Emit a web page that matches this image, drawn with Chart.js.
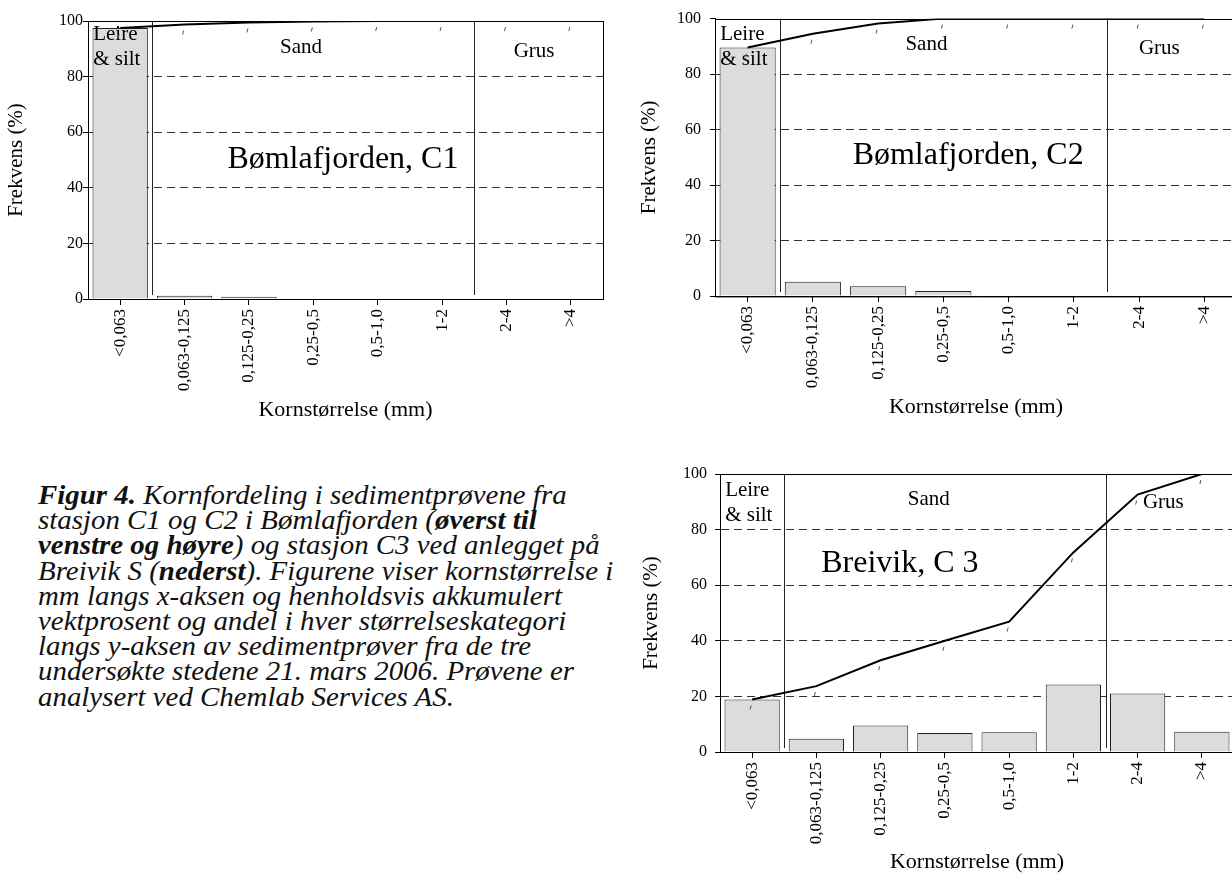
<!DOCTYPE html>
<html>
<head>
<meta charset="utf-8">
<script src="https://cdn.jsdelivr.net/npm/chart.js@4"></script>
<style>
  html, body { margin: 0; padding: 0; background: #fff; overflow: hidden; }
  body { width: 1232px; height: 880px; position: relative; }
  canvas { position: absolute; }
  #c1 { left: 0; top: 0; }
  #c2 { left: 620px; top: 0; }
  #c3 { left: 620px; top: 455px; }
  .caption {
    position: absolute; left: 38px; top: 483px;
    font-family: "Liberation Serif", "DejaVu Serif", serif;
    font-style: italic; font-size: 27px; line-height: 25.2px; color: #111;
    white-space: nowrap;
    transform: scaleX(1.07); transform-origin: left top;
  }
  .caption b { font-weight: bold; }
</style>
</head>
<body>
<canvas id="c1" width="610" height="440"></canvas>
<canvas id="c2" width="630" height="440"></canvas>
<canvas id="c3" width="630" height="425"></canvas>
<div class="caption">
<b>Figur 4.</b> Kornfordeling i sedimentprøvene fra<br>
stasjon C1 og C2 i Bømlafjorden (<b>øverst til</b><br>
<b>venstre og høyre</b>) og stasjon C3 ved anlegget på<br>
Breivik S (<b>nederst</b>). Figurene viser kornstørrelse i<br>
mm langs x-aksen og henholdsvis akkumulert<br>
vektprosent og andel i hver størrelseskategori<br>
langs y-aksen av sedimentprøver fra de tre<br>
undersøkte stedene 21. mars 2006. Prøvene er<br>
analysert ved Chemlab Services AS.
</div>
<script>
// grain size classes (mm)
const categories = ["<0,063", "0,063-0,125", "0,125-0,25", "0,25-0,5", "0,5-1,0", "1-2", "2-4", ">4"];
const yTicks = [0, 20, 40, 60, 80, 100];

// share per class (%) and cumulative weight percent
const c1Freq = [97.5, 1.2, 0.8, 0.3, 0, 0, 0, 0];
const c1Cum = [97.5, 98.7, 99.5, 99.8, 100, 100, 100, 100];
const c2Freq = [89.6, 5.1, 3.5, 1.8, 0, 0, 0, 0];
const c2Cum = [89.6, 94.5, 98.2, 100, 100, 100, 100, 100];
const c3Freq = [18.9, 4.8, 9.5, 6.8, 7.1, 24.3, 21, 7.3];
const c3Cum = [18.9, 23.7, 33, 40, 46.9, 71.8, 92.6, 100];

const stations = ["Bømlafjorden, C1", "Bømlafjorden, C2", "Breivik, C 3"];

const FONT = "'Liberation Serif', 'DejaVu Serif', serif";
Chart.defaults.font.family = FONT;
Chart.defaults.color = "#000";

// draws the frame, the class borders, the text labels and the small marks under the curve
const panelPlugin = {
  id: "panel",
  beforeDatasetsDraw(chart, args, opts) {
    const { ctx, chartArea: a, scales: { x } } = chart;
    ctx.save();
    ctx.strokeStyle = "#222";
    ctx.lineWidth = 1;
    (opts.borders || []).forEach((b) => {
      const px = Math.round(x.getPixelForValue(b)) + 0.5;
      ctx.beginPath();
      ctx.moveTo(px, a.top);
      ctx.lineTo(px, a.bottom - 4);
      ctx.stroke();
    });
    ctx.strokeStyle = "#000";
    ctx.strokeRect(Math.round(a.left) + 0.5, Math.round(a.top) + 0.5, a.right - a.left, a.bottom - a.top);
    ctx.restore();
  },
  afterDatasetsDraw(chart, args, opts) {
    const { ctx, scales: { x, y } } = chart;
    ctx.save();
    ctx.fillStyle = "#000";
    ctx.textBaseline = "middle";
    (opts.texts || []).forEach((t) => {
      ctx.font = t.size + "px " + FONT;
      ctx.textAlign = t.align || "center";
      ctx.fillText(t.text, x.getPixelForValue(t.x), y.getPixelForValue(t.y));
    });
    // tiny ticks under the cumulative curve
    const meta = chart.getDatasetMeta(1);
    ctx.strokeStyle = "#555";
    ctx.lineWidth = 1;
    meta.data.forEach((p) => {
      ctx.beginPath();
      ctx.moveTo(p.x - 1, p.y + 6);
      ctx.lineTo(p.x - 2, p.y + 10);
      ctx.stroke();
    });
    ctx.restore();
  },
};

function makeChart(id, freq, cum, station, layout) {
  const ctx = document.getElementById(id).getContext("2d");
  return new Chart(ctx, {
    type: "bar",
    data: {
      labels: categories,
      datasets: [
        {
          type: "bar",
          data: freq,
          backgroundColor: "#dcdcdc",
          borderColor: "#222",
          borderWidth: 1,
          barPercentage: 0.86,
          categoryPercentage: 1,
          order: 1,
        },
        {
          type: "line",
          data: cum,
          borderColor: "#000",
          borderWidth: 2,
          pointRadius: 0,
          tension: 0,
          order: 0,
        },
      ],
    },
    options: {
      responsive: false,
      animation: false,
      layout: { padding: layout.padding },
      plugins: {
        legend: { display: false },
        tooltip: { enabled: false },
        panel: {
          borders: [0.5, 5.5],
          texts: [
            { text: "Leire", x: -0.42, y: layout.leire, size: 21, align: "left" },
            { text: "& silt", x: -0.42, y: layout.leire - 9, size: 21, align: "left" },
            { text: "Sand", x: layout.sand[0], y: layout.sand[1], size: 21 },
            { text: "Grus", x: layout.grus[0], y: layout.grus[1], size: 21 },
            { text: station, x: layout.name[0], y: layout.name[1], size: 32 },
          ],
        },
      },
      scales: {
        x: {
          offset: true,
          afterFit: (s) => { s.height = layout.xHeight; },
          grid: { offset: false, drawOnChartArea: false, drawTicks: true, tickLength: 6, color: "#000" },
          border: { color: "#000" },
          ticks: { minRotation: 90, maxRotation: 90, padding: 4, font: { size: 17 } },
          title: { display: true, text: "Kornstørrelse (mm)", font: { size: 22 }, padding: 4 },
        },
        y: {
          min: 0,
          max: 100,
          afterFit: (s) => { s.width = layout.yWidth; },
          afterBuildTicks: (s) => { s.ticks = yTicks.map((v) => ({ value: v })); },
          grid: {
            drawTicks: true,
            tickLength: 5,
            tickColor: "#000",
            color: (c) => (c.tick && (c.tick.value === 0 || c.tick.value === 100) ? "rgba(0,0,0,0)" : "#333"),
          },
          border: { color: "#000", dash: [8, 5] },
          ticks: { padding: layout.tickPad, font: { size: 16 } },
          title: { display: true, text: "Frekvens (%)", font: { size: 21 }, padding: 4 },
        },
      },
    },
    plugins: [panelPlugin],
  });
}

makeChart("c1", c1Freq, c1Cum, stations[0], {
  padding: { left: 0, top: 21, right: 7, bottom: 13 },
  yWidth: 88, xHeight: 128, tickPad: 0,
  leire: 95, sand: [2.81, 90.3], grus: [6.43, 89.2], name: [3.46, 50],
});
makeChart("c2", c2Freq, c2Cum, stations[1], {
  padding: { left: 13, top: 17, right: 13, bottom: 16 },
  yWidth: 82, xHeight: 128, tickPad: 9,
  leire: 94.3, sand: [2.74, 90.7], grus: [6.31, 89.2], name: [3.38, 50.5],
});
makeChart("c3", c3Freq, c3Cum, stations[2], {
  padding: { left: 15, top: 19, right: 16, bottom: 1 },
  yWidth: 85, xHeight: 127, tickPad: 8,
  leire: 94.2, sand: [2.75, 90.8], grus: [6.4, 89.6], name: [2.3, 67.7],
});
</script>
</body>
</html>
